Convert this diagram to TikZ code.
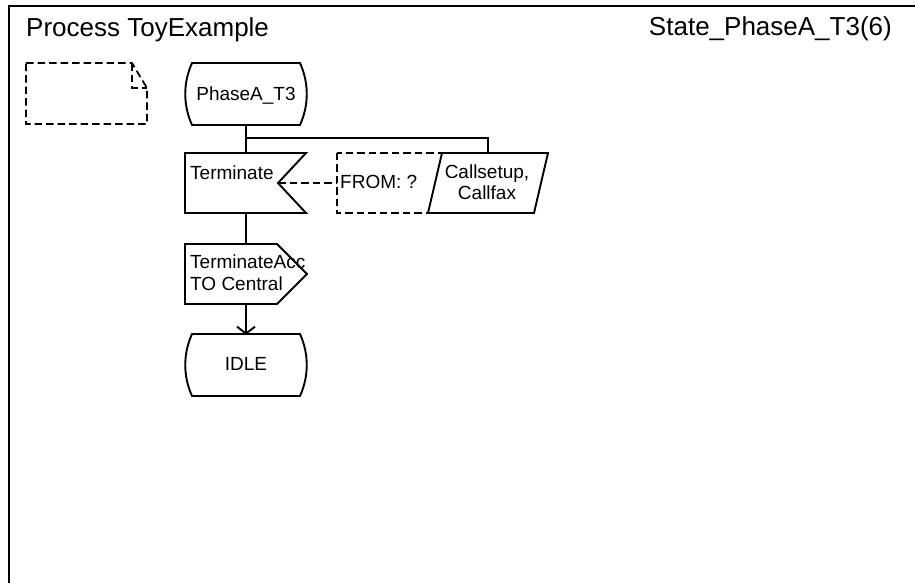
\documentclass[tikz,border=0pt]{standalone}
\usepackage{fontspec}
\setmainfont{Liberation Sans}
\usetikzlibrary{arrows.meta,calc}
\newcommand\sdlstatesym[1]{%
  \draw[sdlline] ($(#1)+(-54,-31)$) -- ($(#1)+(54,-31)$)
    .. controls ($(#1)+(63,-11)$) and ($(#1)+(63,11)$) .. ($(#1)+(54,31)$)
    -- ($(#1)+(-54,31)$)
    .. controls ($(#1)+(-63,11)$) and ($(#1)+(-63,-11)$) .. cycle;}
\begin{document}
\begin{tikzpicture}[x=1pt,y=-1pt,
  sdlline/.style={line width=1.9pt, line join=miter},
  dline/.style={line width=1.8pt, dash pattern=on 7.5pt off 4pt},
  framel/.style={line width=2pt},
  lbl/.style={font=\fontsize{19}{22}\selectfont, inner sep=0pt},
  big/.style={font=\fontsize{26}{30}\selectfont, inner sep=0pt},
  holder/.style={minimum width=122pt, minimum height=60pt, inner sep=0pt}]
\useasboundingbox (0,0) rectangle (915,582);
% frame
\draw[framel] (9,600) -- (9,6) -- (930,6);
\node[big, anchor=base west] (title) at (26,36) {Process ToyExample};
\node[big, anchor=base east] (page) at (892,35) {State\_PhaseA\_T3(6)};
% note symbol
\draw[dline] (26,63) -- (132,63) -- (147,88) -- (147,124) -- (26,124) -- cycle;
\draw[dline] (132,63) -- (132,88) -- (147,88);
% holders
\node[holder, minimum height=62pt] (phase) at (246,94) {};
\node[holder] (term) at (246,183) {};
\node[holder, minimum width=120pt] (cmt) at (397,183) {};
\node[holder] (cs) at (488,183) {};
\node[holder] (out) at (246,274) {};
\node[holder] (idle) at (246,365) {};
\coordinate (notch) at ($(term)+(32,0)$);
% state PhaseA_T3
\sdlstatesym{phase}
\node[lbl, anchor=base] (phaset) at (246,100) {PhaseA\_T3};
% connectors from state
\draw[sdlline] (phase.south) -- (term.north);
\draw[sdlline] ($(phase.south)+(0,13)$) -| (cs.north);
% comment
\draw[dline] (cmt.north west) rectangle (cmt.south east);
\draw[dline] (notch) -- (cmt.west);
\node[lbl, anchor=base west] (cmtt) at (340,188) {FROM: ?};
% input Terminate
\draw[sdlline] ($(term)+(-61,-30)$) -- ($(term)+(60,-30)$) -- (notch)
  -- ($(term)+(60,30)$) -- ($(term)+(-61,30)$) -- cycle;
\node[lbl, anchor=base west] (termt) at (190,179) {Terminate};
% priority input parallelogram
\draw[sdlline, fill=white] ($(cs)+(-46,-30)$) -- ($(cs)+(60,-30)$)
  -- ($(cs)+(46,30)$) -- ($(cs)+(-60,30)$) -- cycle;
\node[lbl, anchor=base] (cst1) at (487,178) {Callsetup,};
\node[lbl, anchor=base] (cst2) at (487,199) {Callfax};
% output
\draw[sdlline] (term.south) -- (out.north);
\draw[sdlline] ($(out)+(-61,-30)$) -- ($(out)+(31,-30)$) -- ($(out)+(61,0)$)
  -- ($(out)+(31,30)$) -- ($(out)+(-61,30)$) -- cycle;
\node[lbl, anchor=base west] (outt1) at (190,268) {TerminateAcc};
\node[lbl, anchor=base west] (outt2) at (190,290) {TO Central};
% arrow to IDLE
\draw[sdlline, -{Straight Barb[length=7pt,width=18pt,line width=1.9pt]}] (out.south) -- (idle.north);
\sdlstatesym{idle}
\node[lbl, anchor=base] (idlet) at (246,370) {IDLE};
\end{tikzpicture}
\end{document}
